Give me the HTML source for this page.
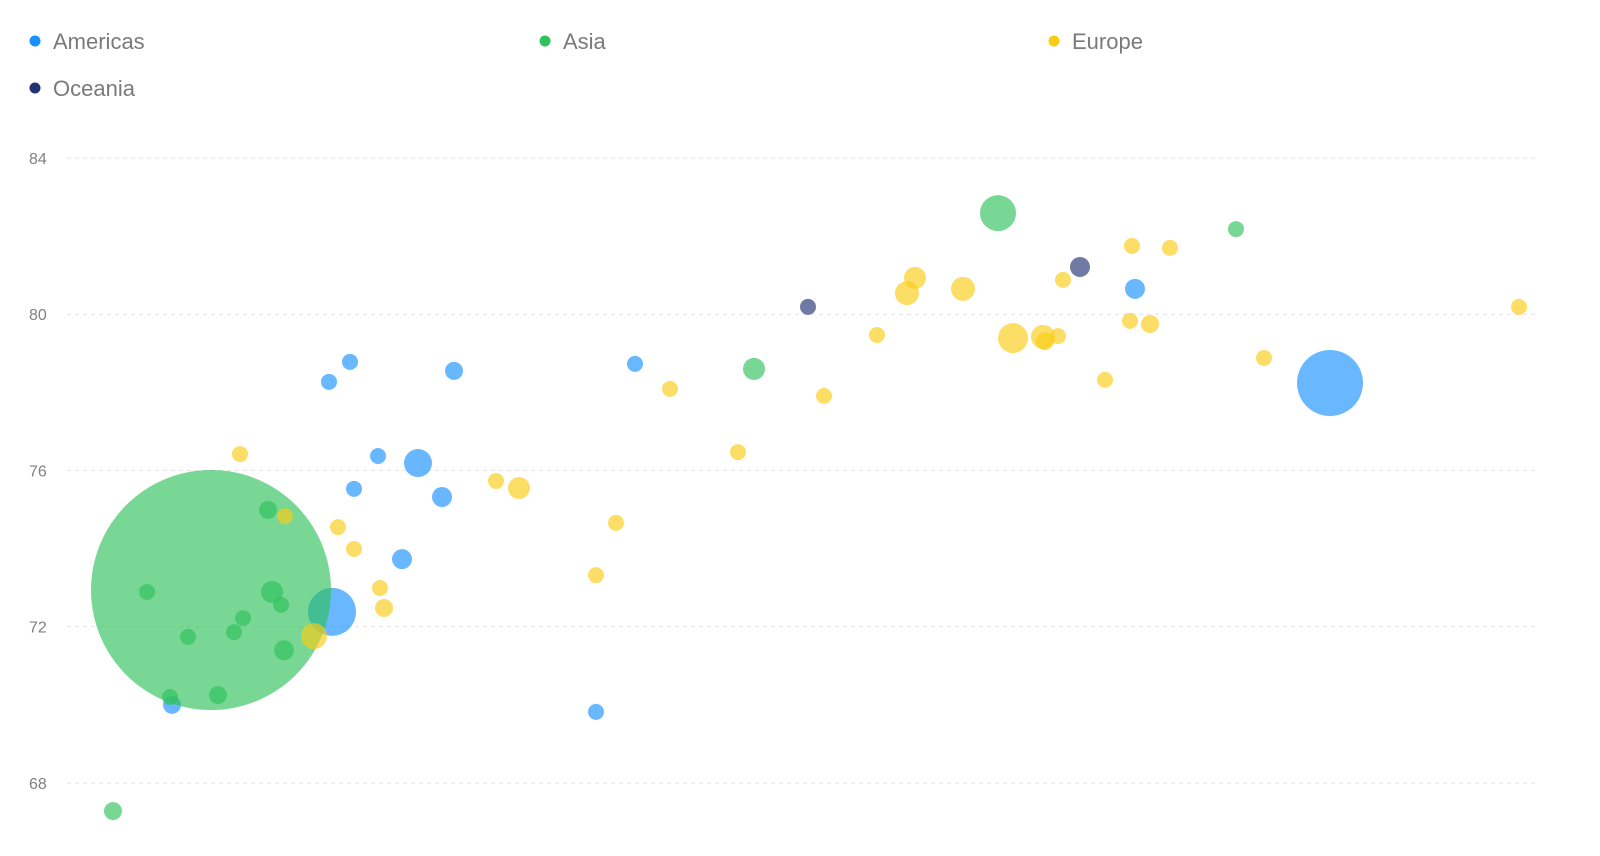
<!DOCTYPE html>
<html><head><meta charset="utf-8"><style>
body{margin:0;background:#fff;font-family:"Liberation Sans",Arial,sans-serif}
svg{display:block}
</style></head><body>
<svg id="chart" width="1600" height="856">
<g id="legend">
<g><circle cx="35" cy="41" r="5.5" fill="#1890ff"/><text x="53" y="49" font-size="22" fill="#7a7a7a">Americas</text></g>
<g><circle cx="545" cy="41" r="5.5" fill="#2fc25b"/><text x="563" y="49" font-size="22" fill="#7a7a7a">Asia</text></g>
<g><circle cx="1054" cy="41" r="5.5" fill="#facc14"/><text x="1072" y="49" font-size="22" fill="#7a7a7a">Europe</text></g>
<g><circle cx="35" cy="88" r="5.5" fill="#223273"/><text x="53" y="96" font-size="22" fill="#7a7a7a">Oceania</text></g>
</g>
<g id="grid"></g>
<g id="marks"></g>
</svg>
<script>
const yTicks=[68,72,76,80,84];
const seriesNames=["Americas","Asia","Europe","Oceania"];
const seriesColors=["#1890ff","#2fc25b","#facc14","#223273"];
const americasX=[32.9,35.0,45.4,37.8,41.8,35.4,44.2,40.2,33.2,59.6,63.5,113.5,133.0,17.2];
const americasY=[78.27,78.78,78.55,76.37,76.19,75.53,75.32,73.73,72.38,69.82,78.73,80.65,78.24,70.0];
const americasSize=[64,64,81,64,196,64,100,100,576,64,64,100,1089,81];
const asiaX=[21.1,14.7,18.8,17.0,21.8,23.4,24.3,26.8,27.2,28.1,28.4,11.3,75.4,99.8,123.6];
const asiaY=[72.94,72.89,71.74,70.2,70.25,71.86,72.22,74.99,72.89,72.56,71.4,67.28,78.6,82.59,82.18];
const asiaSize=[14400,64,64,64,81,64,64,81,121,64,100,81,121,324,64];
const europeX=[24.0,28.5,33.8,35.4,38.0,38.4,31.4,49.6,51.9,59.6,61.6,67.0,73.8,82.4,87.7,90.7,91.5,96.3,101.3,104.3,104.5,105.8,106.3,110.5,113.0,113.2,115.0,117.0,126.4,151.9];
const europeY=[76.42,74.83,74.55,73.99,72.99,72.48,71.76,75.73,75.55,73.32,74.66,78.09,76.47,77.91,79.47,80.54,80.93,80.65,79.39,79.42,79.31,79.44,80.88,78.32,79.83,81.75,79.75,81.7,78.88,80.19];
const europeSize=[64,64,64,64,64,81,169,64,121,64,64,64,64,64,64,144,121,144,225,144,81,64,64,64,64,64,81,64,64,64];
const oceaniaX=[80.8,108.0];
const oceaniaY=[80.19,81.21];
const oceaniaSize=[64,100];
const seriesData=[[americasX,americasY,americasSize],[asiaX,asiaY,asiaSize],[europeX,europeY,europeSize],[oceaniaX,oceaniaY,oceaniaSize]];
const NS="http://www.w3.org/2000/svg";
function xScale(v){return v*10;}
function yScale(v){return 158+(84-v)*39.06;}
function rScale(s){return Math.sqrt(s);}
const grid=document.getElementById('grid');
yTicks.forEach(t=>{
  const l=document.createElementNS(NS,'line');
  l.setAttribute('x1',67);l.setAttribute('x2',1536);
  l.setAttribute('y1',yScale(t));l.setAttribute('y2',yScale(t));
  l.setAttribute('stroke','#e2e2e2');l.setAttribute('stroke-dasharray','4 4');
  
  
  grid.appendChild(l);
  const tx=document.createElementNS(NS,'text');
  tx.setAttribute('x',29);tx.setAttribute('y',yScale(t)+6);
  tx.setAttribute('font-size','16');tx.setAttribute('fill','#808080');
  tx.textContent=t;
  
  
  grid.appendChild(tx);
});
const marks=document.getElementById('marks');
seriesData.forEach((d,si)=>{
  const idx=d[0].map((_,i)=>i).sort((a,b)=>d[2][b]-d[2][a]);
  idx.forEach(i=>{
    const c=document.createElementNS(NS,'circle');
    c.setAttribute('cx',xScale(d[0][i]));
    c.setAttribute('cy',yScale(d[1][i]));
    c.setAttribute('r',rScale(d[2][i]));
    c.setAttribute('fill',seriesColors[si]);
    c.setAttribute('fill-opacity','0.65');
    
    
    marks.appendChild(c);
  });
});
</script>
</body></html>
